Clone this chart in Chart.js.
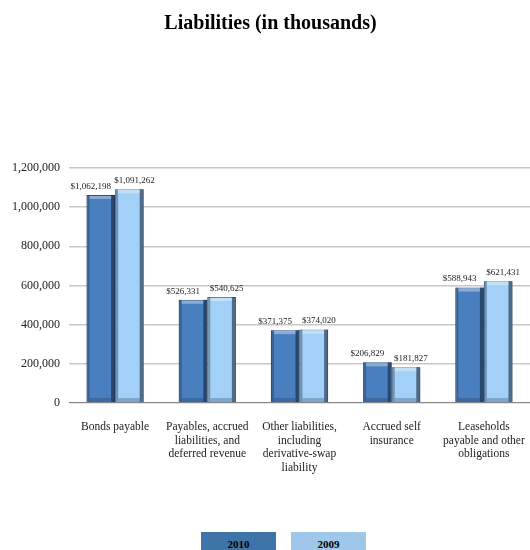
<!DOCTYPE html>
<html>
<head>
<meta charset="utf-8">
<script src="https://cdn.jsdelivr.net/npm/chart.js@4"></script>
<style>
  body { margin: 0; background: #fff; }
  #wrap { position: relative; width: 530px; height: 550px; }
  .leg { position: absolute; top: 532px; height: 18px; width: 75px; text-align: center;
         font: bold 11px "Liberation Serif", "Times New Roman", serif; line-height: 24px; color: #000; }
</style>
</head>
<body>
<div id="wrap">
  <canvas id="liabChart" width="530" height="550"></canvas>
  <div class="leg" style="left:201px;background:#3f74a8;">2010</div>
  <div class="leg" style="left:291px;background:#9ec7ea;">2009</div>
</div>
<script>
const categories = [
    'Bonds payable',
    ['Payables, accrued', 'liabilities, and', 'deferred revenue'],
    ['Other liabilities,', 'including', 'derivative-swap', 'liability'],
    ['Accrued self', 'insurance'],
    ['Leaseholds', 'payable and other', 'obligations']
];
const values2010 = [1062198, 526331, 371375, 206829, 588943];
const values2009 = [1091262, 540625, 374020, 181827, 621431];
const yTicks = [0, 200000, 400000, 600000, 800000, 1000000, 1200000];

const serif = '"Liberation Serif", "Times New Roman", serif';

// bevelled edges on each bar, roughly like the office-style 3D bars
const bevel = {
    id: 'bevel',
    afterDatasetsDraw(chart) {
        const ctx = chart.ctx;
        ctx.save();
        chart.data.datasets.forEach((ds, i) => {
            chart.getDatasetMeta(i).data.forEach(bar => {
                const l = bar.x - bar.width / 2, r = bar.x + bar.width / 2;
                const t = bar.y, b = bar.base;
                ctx.fillStyle = 'rgba(20,40,70,0.35)';
                ctx.fillRect(l, t, 3, b - t);
                ctx.fillStyle = 'rgba(10,25,50,0.55)';
                ctx.fillRect(r - 4, t, 4, b - t);
                ctx.fillStyle = 'rgba(255,255,255,0.35)';
                ctx.fillRect(l + 3, t + 1, bar.width - 7, 3);
                ctx.fillStyle = 'rgba(20,40,70,0.25)';
                ctx.fillRect(l + 3, b - 4, bar.width - 7, 4);
            });
        });
        ctx.restore();
    }
};

// value labels above each bar, nudged apart like the original
const valueLabels = {
    id: 'valueLabels',
    afterDatasetsDraw(chart) {
        const ctx = chart.ctx;
        ctx.save();
        ctx.font = '9px ' + serif;
        ctx.fillStyle = '#222';
        ctx.textAlign = 'center';
        ctx.textBaseline = 'bottom';
        chart.data.datasets.forEach((ds, i) => {
            const shift = i === 0 ? -10 : 5;
            chart.getDatasetMeta(i).data.forEach((bar, j) => {
                const txt = '$' + ds.data[j].toLocaleString('en-US');
                ctx.fillText(txt, bar.x + shift, bar.y - 4);
            });
        });
        ctx.restore();
    }
};

const ctx = document.getElementById('liabChart').getContext('2d');
window.myChart = new Chart(ctx, {
    type: 'bar',
    data: {
        labels: categories,
        datasets: [{
            label: '2010',
            data: values2010,
            backgroundColor: '#4a7fbf',
            borderColor: '#2c5282',
            borderWidth: 1,
            categoryPercentage: 0.62,
            barPercentage: 1
        }, {
            label: '2009',
            data: values2009,
            backgroundColor: '#a3d0f6',
            borderColor: '#5f87ad',
            borderWidth: 1,
            categoryPercentage: 0.62,
            barPercentage: 1
        }]
    },
    options: {
        responsive: false,
        animation: false,
        layout: { padding: { left: 11, right: 0, bottom: 66 } },
        plugins: {
            legend: { display: false },
            tooltip: { enabled: false },
            title: {
                display: true,
                text: 'Liabilities (in thousands)',
                color: '#000',
                font: { family: serif, size: 20, weight: 'bold' },
                padding: { top: 12, bottom: 132 }
            }
        },
        scales: {
            x: {
                afterFit(scale) {
                    // let the long labels run to the edges
                    scale.paddingLeft = 0;
                    scale.paddingRight = 0;
                },
                grid: { display: false },
                border: { color: '#888', width: 1 },
                ticks: {
                    color: '#222',
                    font: { family: serif, size: 11.5 },
                    maxRotation: 0,
                    autoSkip: false,
                    padding: 9
                }
            },
            y: {
                min: 0,
                max: 1200000,
                afterBuildTicks(scale) {
                    scale.ticks = yTicks.map(v => ({ value: v }));
                },
                afterFit(scale) {
                    scale.width = 58;
                },
                grid: { color: '#c8c8c8', lineWidth: 1.5, drawTicks: false },
                border: { display: false },
                ticks: {
                    color: '#222',
                    font: { family: serif, size: 12 },
                    padding: 9,
                    callback: v => v.toLocaleString('en-US')
                }
            }
        }
    },
    plugins: [bevel, valueLabels]
});
</script>
</body>
</html>
